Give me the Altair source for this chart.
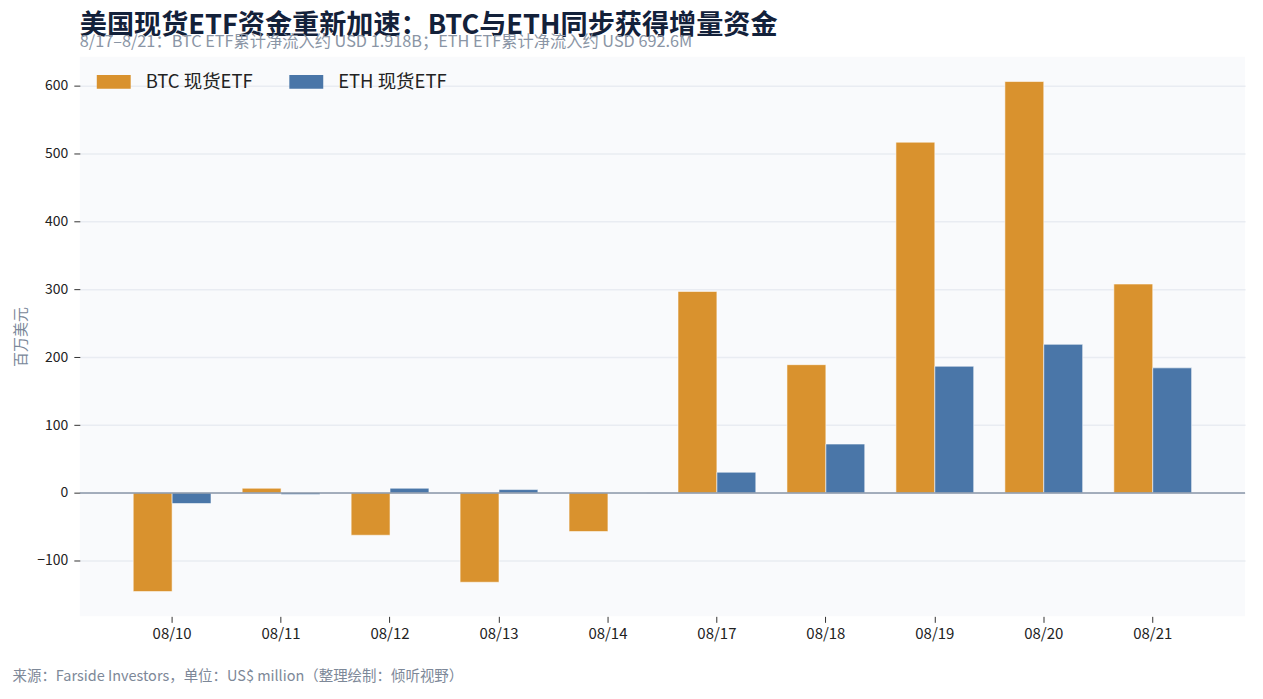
import altair as alt
import pandas as pd

dates = ["08/10", "08/11", "08/12", "08/13", "08/14", "08/17", "08/18", "08/19", "08/20", "08/21"]
btc = [-145.5, 6.9, -62.4, -131.7, -57.0, 297.0, 189.0, 517.0, 606.4, 307.9]
eth = [-15.7, -2.5, 6.9, 4.9, 0.0, 30.5, 72.0, 186.7, 219.0, 184.3]
series = ["BTC 现货ETF", "ETH 现货ETF"]
colors = ["#D9922E", "#4A76A8"]
y_ticks = [-100, 0, 100, 200, 300, 400, 500, 600]

rows = []
for d, b, e in zip(dates, btc, eth):
    rows.append({"date": d, "series": series[0], "value": b})
    rows.append({"date": d, "series": series[1], "value": e})
df = pd.DataFrame(rows)

FONT = "Noto Sans CJK SC"
W, H = 1168, 561

bars = alt.Chart(df).mark_bar(stroke="white", strokeWidth=0.8, strokeOpacity=0.7).encode(
    x=alt.X(
        "date:N",
        sort=dates,
        scale=alt.Scale(paddingInner=0.286, paddingOuter=0.49),
        axis=alt.Axis(
            title="来源：Farside Investors，单位：US$ million（整理绘制：倾听视野）",
            titleX=-68,
            titleY=60,
            titleAlign="left",
            titleAnchor="start",
            titleBaseline="middle",
            titleFontSize=14.5,
            titleFontWeight="normal",
            titleColor="#7d8898",
            labelAngle=0,
            labelFontSize=15,
            labelColor="#222222",
            labelPadding=4,
            tickSize=6,
            tickColor="#333333",
            domain=False,
            grid=False,
        ),
    ),
    xOffset=alt.XOffset("series:N", sort=series, scale=alt.Scale(paddingInner=0, paddingOuter=0)),
    y=alt.Y(
        "value:Q",
        scale=alt.Scale(domain=[-182, 643], nice=False, zero=False),
        axis=alt.Axis(
            title="百万美元",
            titleX=-59,
            titleY=H / 2,
            titleAngle=-90,
            titleAlign="center",
            titleBaseline="middle",
            titleFontSize=15,
            titleFontWeight="normal",
            titleColor="#7a8799",
            values=y_ticks,
            labelFontSize=14,
            labelColor="#222222",
            labelPadding=6,
            tickSize=6,
            tickColor="#333333",
            domain=False,
            grid=True,
            gridColor="#e9ecf2",
            gridWidth=1.5,
        ),
    ),
    color=alt.Color(
        "series:N",
        sort=series,
        scale=alt.Scale(domain=series, range=colors),
        legend=alt.Legend(
            title=None,
            orient="none",
            legendX=17,
            legendY=8,
            direction="horizontal",
            symbolType="M-1,-0.41H1V0.41H-1Z",
            symbolSize=1156,
            symbolStrokeWidth=0,
            symbolOpacity=1,
            labelFontSize=18.5,
            labelColor="#222222",
            labelOffset=15,
            columnPadding=36,
            padding=0,
        ),
    ),
)

zero = alt.Chart(pd.DataFrame({"z": [0]})).mark_rule(color="#8a97a8", strokeWidth=1.5).encode(
    y=alt.datum(0, type="quantitative")
)

chart = alt.layer(bars, zero).properties(
    width=W,
    height=H,
    autosize=alt.AutoSizeParams(type="none"),
    padding={"left": 72, "top": 48, "right": 10, "bottom": 75},
    title=alt.Title(
        text="美国现货ETF资金重新加速：BTC与ETH同步获得增量资金",
        subtitle="8/17–8/21：BTC ETF累计净流入约 USD 1.918B；ETH ETF累计净流入约 USD 692.6M",
        anchor="start",
        frame="group",
        fontSize=27.2,
        fontWeight="bold",
        color="#13213a",
        subtitleFontSize=16.3,
        subtitleColor="#8a95a5",
        subtitlePadding=-6,
        offset=5,
        font=FONT,
        subtitleFont=FONT,
    ),
).configure(
    font=FONT,
    background="white",
).configure_view(
    fill="#f9fafc",
    stroke=None,
)

chart.save("out.html", embed_options={"renderer": "svg", "actions": False})
